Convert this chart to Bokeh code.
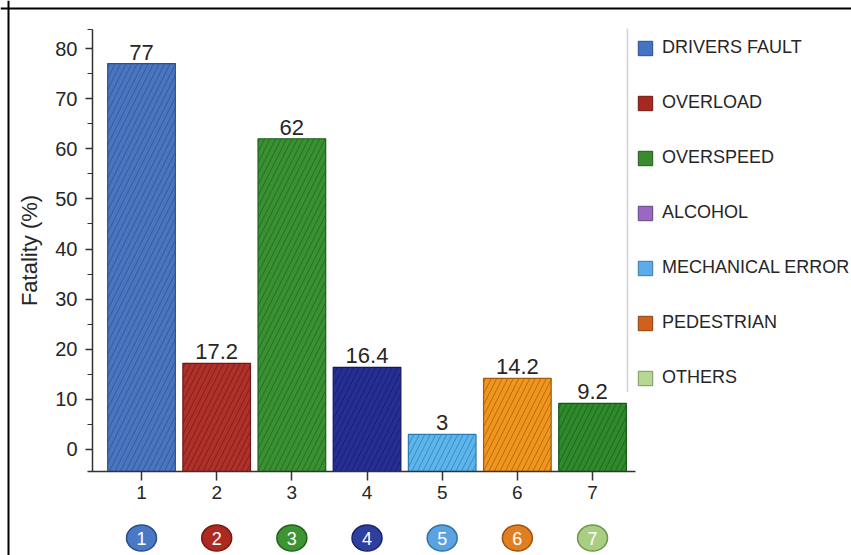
from bokeh.plotting import figure
from bokeh.models import (Range1d, LinearAxis, FixedTicker, Span, Legend,
                          LegendItem, ColumnDataSource)
from bokeh.core.properties import value
from bokeh.embed import file_html
from bokeh.resources import INLINE

# ---- data -------------------------------------------------------------
positions = [1, 2, 3, 4, 5, 6, 7]
tick_labels = ["1", "2", "3", "4", "5", "6", "7"]
fatality = [77, 17.2, 62, 16.4, 3, 14.2, 9.2]
value_labels = ["77", "17.2", "62", "16.4", "3", "14.2", "9.2"]

bar_fill = ["#4a76c0", "#b0302a", "#3a9132", "#262f93", "#5cb6ec", "#f0961f", "#2f8a2b"]
bar_edge = ["#2c4f8c", "#6e1a14", "#1f5e1b", "#141a5c", "#2e7bb0", "#a35c0a", "#19561a"]

badge_fill = ["#4a78c4", "#ae2a20", "#3c9433", "#2d3f9f", "#5aa3e0", "#e07f22", "#a9cd83"]
badge_edge = ["#2a4d8c", "#741a12", "#22621d", "#1a2668", "#3570aa", "#9c5210", "#6a9a4a"]

causes = ["DRIVERS FAULT", "OVERLOAD", "OVERSPEED", "ALCOHOL",
          "MECHANICAL ERROR", "PEDESTRIAN", "OTHERS"]
cause_fill = ["#4472c4", "#a8281f", "#3a8a2e", "#9a68c2", "#5aacea", "#d0611c", "#b5d991"]
cause_edge = ["#2b4d8a", "#6a1812", "#215a1a", "#62408a", "#3578b0", "#8c3e10", "#76985a"]

# ---- layout constants (data units) -------------------------------------
X_START, X_END = -0.876, 10.445
Y_START, Y_END = -21.15, 89.58
PX_X, PX_Y = 75.17, 5.0125   # pixels per data unit
BASE = -4.39                 # x-axis baseline, bars rise from here
Y_AXIS_AT = 0.348
Y_TOP = 83.8
BADGE_Y = -17.66
FONT = "Liberation Sans"
INK = "#262626"

p = figure(width=851, height=555, output_backend="svg", toolbar_location=None,
           x_axis_type=None, y_axis_type=None,
           x_range=Range1d(X_START, X_END), y_range=Range1d(Y_START, Y_END),
           min_border_left=0, min_border_right=0, min_border_top=0, min_border_bottom=0)
p.outline_line_color = None
p.background_fill_color = "white"
p.border_fill_color = "white"

# frame lines on the left and top of the canvas
p.add_layout(Span(location=X_START + 8 / PX_X, dimension="height",
                  line_color="black", line_width=2))
p.add_layout(Span(location=Y_END - 8 / PX_Y, dimension="width",
                  line_color="black", line_width=2))

# ---- axes --------------------------------------------------------------
yaxis = LinearAxis(fixed_location=Y_AXIS_AT, bounds=(BASE, Y_TOP),
                   ticker=FixedTicker(ticks=list(range(0, 81, 10)),
                                      minor_ticks=list(range(5, 80, 10)) + [Y_TOP]))
yaxis.axis_label = "Fatality (%)"
yaxis.axis_label_text_font = FONT
yaxis.axis_label_text_font_size = "22px"
yaxis.axis_label_text_font_style = "normal"
yaxis.axis_label_text_color = INK
yaxis.axis_label_standoff = 10
yaxis.major_label_text_font = FONT
yaxis.major_label_text_font_size = "20px"
yaxis.major_label_text_color = INK
yaxis.major_label_standoff = 8
yaxis.major_tick_out = 7
yaxis.major_tick_in = 0
yaxis.minor_tick_out = 5
yaxis.minor_tick_in = 0
yaxis.axis_line_color = "#333333"
yaxis.axis_line_width = 1.5
yaxis.major_tick_line_color = "#333333"
yaxis.major_tick_line_width = 1.5
yaxis.minor_tick_line_color = "#333333"
yaxis.minor_tick_line_width = 1.2
p.add_layout(yaxis, "left")

xaxis = LinearAxis(fixed_location=BASE, bounds=(0.28, 7.57),
                   ticker=FixedTicker(ticks=positions, minor_ticks=[]))
xaxis.major_label_overrides = {pos: lab for pos, lab in zip(positions, tick_labels)}
xaxis.major_label_text_font = FONT
xaxis.major_label_text_font_size = "19px"
xaxis.major_label_text_color = INK
xaxis.major_label_standoff = 6
xaxis.major_tick_out = 9
xaxis.major_tick_in = 0
xaxis.minor_tick_line_color = None
xaxis.axis_line_color = "#333333"
xaxis.axis_line_width = 1.5
xaxis.major_tick_line_color = "#333333"
xaxis.major_tick_line_width = 1.5
p.add_layout(xaxis, "below")

# ---- bars --------------------------------------------------------------
bars = ColumnDataSource(dict(x=positions, top=fatality, fill=bar_fill, edge=bar_edge,
                             label=value_labels))
p.vbar(x="x", top="top", bottom=BASE, width=0.9, source=bars,
       fill_color="fill", line_color="edge", line_width=1.2,
       hatch_pattern="/", hatch_color="edge", hatch_alpha=0.75,
       hatch_scale=11, hatch_weight=1.0)
p.text(x="x", y="top", text="label", source=bars, y_offset=-4,
       text_align="center", text_baseline="bottom", text_font=value(FONT),
       text_font_size="22px", text_color=INK)

# ---- numbered badges under the axis ------------------------------------
badges = ColumnDataSource(dict(x=positions, fill=badge_fill, edge=badge_edge,
                               label=tick_labels))
p.ellipse(x="x", y=BADGE_Y, width=30, height=26, width_units="screen",
          height_units="screen", source=badges,
          fill_color="fill", line_color="edge", line_width=1.5)
p.text(x="x", y=BADGE_Y, text="label", source=badges, text_align="center",
       text_baseline="middle", text_font=value(FONT), text_font_size="18px",
       text_color="white")

# ---- legend ------------------------------------------------------------
p.segment(x0=7.465, y0=84.0, x1=7.465, y1=11.4, line_color="#d2d2d2", line_width=1.5)

nan = float("nan")
items = []
for name, fc, ec in zip(causes, cause_fill, cause_edge):
    swatch = ColumnDataSource(dict(left=[nan], right=[nan], top=[nan], bottom=[nan]))
    r = p.quad(left="left", right="right", top="top", bottom="bottom", source=swatch,
               fill_color=fc, line_color=ec, line_width=1)
    items.append(LegendItem(label=name, renderers=[r]))

legend = Legend(items=items, location=(636, 167), orientation="vertical",
                glyph_width=18, glyph_height=18, label_height=18, spacing=34,
                label_standoff=8, padding=0, margin=0,
                border_line_color=None, background_fill_alpha=0,
                label_text_font=FONT, label_text_font_size="18px",
                label_text_color=INK, label_text_baseline="middle")
p.add_layout(legend)

open("out.html", "w").write(file_html(p, INLINE))
